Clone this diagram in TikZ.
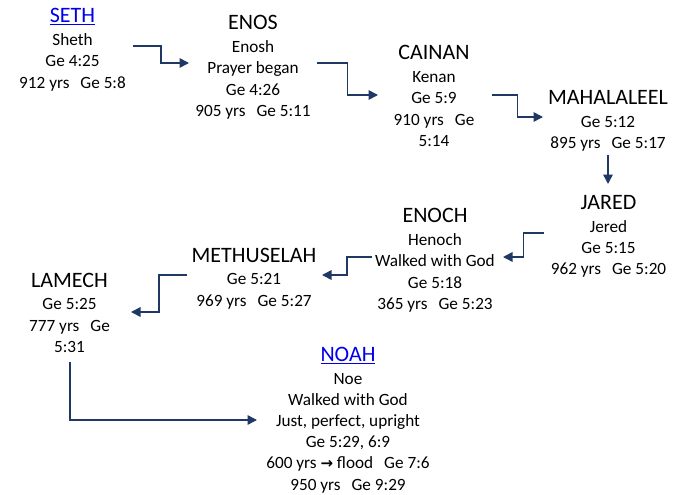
\documentclass[tikz,border=0pt]{standalone}
\usepackage{fontspec}
\setmainfont{Carlito}
\newfontfamily\symfont{DejaVu Sans}
\usetikzlibrary{arrows.meta,calc}
\definecolor{navy}{HTML}{1F3864}
\definecolor{linkblue}{HTML}{0000EE}
\newcommand\gap{\hspace{11pt}}
\newcommand\ttl[1]{{\fontsize{22}{24}\selectfont #1}\\[1.5pt]}
\newcommand\lnk[1]{{\fontsize{22}{24}\selectfont\color{linkblue}\underline{#1}}\\[1.5pt]}
\tikzset{
  person/.style={anchor=north, align=center, inner sep=0pt, font=\fontsize{17.2}{21.2}\selectfont},
  conn/.style={draw=navy, line width=1.5pt, -{Triangle[length=9.5pt,width=9.5pt]}}
}
\begin{document}
\begin{tikzpicture}[x=1pt,y=-1pt]
\fill[white] (0,0) rectangle (680,495);
\useasboundingbox (0,0) rectangle (680,495);

\node[person] (seth) at (72.5,8.5) {\lnk{SETH}Sheth\\Ge 4:25\\912 yrs\gap Ge 5:8};
\node[person] (enos) at (253,15.5) {\ttl{ENOS}Enosh\\Prayer began\\Ge 4:26\\905 yrs\gap Ge 5:11};
\node[person] (cainan) at (434,45.5) {\ttl{CAINAN}Kenan\\Ge 5:9\\910 yrs\gap Ge\\5:14};
\node[person] (maha) at (608,90) {\ttl{MAHALALEEL}Ge 5:12\\895 yrs\gap Ge 5:17};
\node[person] (jared) at (608.5,195) {\ttl{JARED}Jered\\Ge 5:15\\962 yrs\gap Ge 5:20};
\node[person] (enoch) at (435,208.5) {\ttl{ENOCH}Henoch\\Walked with God\\Ge 5:18\\365 yrs\gap Ge 5:23};
\node[person] (methu) at (254,247.8) {\ttl{METHUSELAH}Ge 5:21\\969 yrs\gap Ge 5:27};
\node[person] (lamech) at (69.5,272.8) {\ttl{LAMECH}Ge 5:25\\777 yrs\gap Ge\\5:31};
\node[person] (noah) at (348,347) {\lnk{NOAH}Noe\\Walked with God\\Just, perfect, upright\\Ge 5:29, 6:9\\600 yrs {\symfont\bfseries\fontsize{15}{16}\selectfont →} flood\gap Ge 7:6\\950 yrs\gap Ge 9:29};

\coordinate (s1) at (133,46);  \coordinate (e1) at (189,63);
\coordinate (s2) at (317,63);  \coordinate (e2) at (378,95);
\coordinate (s3) at (492,95);  \coordinate (e3) at (543,117);
\coordinate (s4) at (608,155); \coordinate (e4) at (608,184);
\coordinate (s5) at (544,233); \coordinate (e5) at (503,257);
\coordinate (s6) at (372,257); \coordinate (e6) at (322,275);
\coordinate (s7) at (187,275); \coordinate (e7) at (131,312);
\coordinate (s8) at (70,362);  \coordinate (e8) at (257,420);

\draw[conn] (s1) -| ($(s1)!.5!(e1)$) |- (e1);
\draw[conn] (s2) -| ($(s2)!.5!(e2)$) |- (e2);
\draw[conn] (s3) -| ($(s3)!.5!(e3)$) |- (e3);
\draw[conn] (s4) -- (e4);
\draw[conn] (s5) -| ($(s5)!.5!(e5)$) |- (e5);
\draw[conn] (s6) -| ($(s6)!.5!(e6)$) |- (e6);
\draw[conn] (s7) -| ($(s7)!.5!(e7)$) |- (e7);
\draw[conn] (s8) |- (e8);
\end{tikzpicture}
\end{document}
